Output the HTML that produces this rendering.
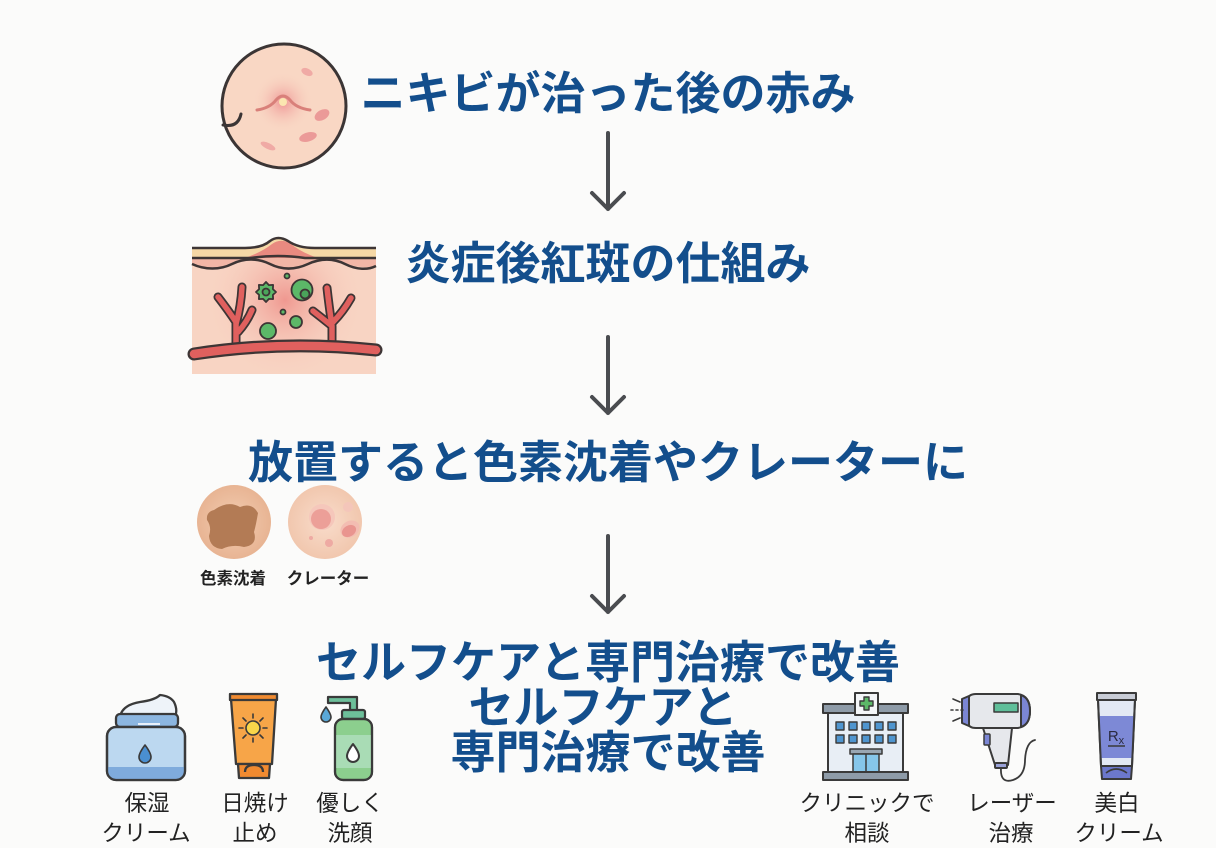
<!DOCTYPE html>
<html><head><meta charset="utf-8"><style>
html,body{margin:0;padding:0;}
body{width:1216px;height:848px;background:#fbfbfa;position:relative;overflow:hidden;font-family:"Liberation Sans","Noto Sans CJK JP",sans-serif;}
.t{position:absolute;left:0;width:1216px;text-align:center;font-size:45px;line-height:45px;font-weight:700;color:#134e8c;white-space:nowrap;}
.l{position:absolute;width:200px;text-align:center;font-size:22.5px;line-height:22px;color:#222;white-space:nowrap;}
.s{position:absolute;width:120px;text-align:center;font-size:16.5px;line-height:18px;font-weight:700;color:#222;white-space:nowrap;}
svg{position:absolute;left:0;top:0;}
</style></head><body>
<svg width="1216" height="848" viewBox="0 0 1216 848">
<defs>
<radialGradient id="g1" cx="283" cy="102" r="30" gradientUnits="userSpaceOnUse"><stop offset="0" stop-color="#ee9494"/><stop offset="1" stop-color="#f9d6c3" stop-opacity="0"/></radialGradient>
<radialGradient id="g2" cx="285" cy="300" r="80" gradientUnits="userSpaceOnUse"><stop offset="0" stop-color="#ef9890"/><stop offset="1" stop-color="#f8d4c3" stop-opacity="0"/></radialGradient>
<radialGradient id="g3" cx="234" cy="522" r="37" gradientUnits="userSpaceOnUse"><stop offset="0" stop-color="#f2cdb2"/><stop offset="1" stop-color="#e8b493"/></radialGradient>
<radialGradient id="g4" cx="325" cy="522" r="37" gradientUnits="userSpaceOnUse"><stop offset="0" stop-color="#f9dccb"/><stop offset="1" stop-color="#f1c7ae"/></radialGradient>
</defs>

<!-- arrows -->
<g stroke="#4a4c50" stroke-width="4" fill="none" stroke-linecap="round" stroke-linejoin="round">
<path d="M608 133 L608 209 M592 193 L608 209 L624 193"/>
<path d="M608 337 L608 413 M592 397 L608 413 L624 397"/>
<path d="M608 536 L608 612 M592 596 L608 612 L624 596"/>
</g>

<!-- top circle -->
<circle cx="284" cy="106" r="62" fill="#f9d7c4"/>
<circle cx="283" cy="102" r="30" fill="url(#g1)"/>
<path d="M257 110 Q270 108 276 100 Q283 92 290 100 Q296 108 310 110" stroke="#d9807a" stroke-width="3" fill="none" stroke-linecap="round"/>
<circle cx="283" cy="102" r="4" fill="#fbe6b0"/>
<ellipse cx="307" cy="72" rx="6" ry="3.5" transform="rotate(25 307 72)" fill="#f0aaa5"/>
<ellipse cx="322" cy="115" rx="8" ry="5" transform="rotate(-30 322 115)" fill="#eb9a98"/>
<ellipse cx="308" cy="137" rx="9" ry="4.5" transform="rotate(-15 308 137)" fill="#eb9a98"/>
<ellipse cx="268" cy="146" rx="8" ry="3" transform="rotate(25 268 146)" fill="#f0aaa5"/>
<circle cx="284" cy="106" r="62" fill="none" stroke="#3b3535" stroke-width="3"/>
<path d="M223 125 Q238 128 241 114" stroke="#3b3535" stroke-width="3" fill="none" stroke-linecap="round"/>

<!-- skin cross section -->
<rect x="192" y="250" width="184" height="124" fill="#f8d4c3"/>
<rect x="192" y="250" width="184" height="124" fill="url(#g2)"/>
<path d="M192 248 L245 248 Q262 248 270 241 Q278 235 288 241 Q298 248 315 248 L376 248 L376 258 L192 258 Z" fill="#f5d8a6"/>
<path d="M245 258 Q262 252 272 244 Q280 238 290 243 Q300 252 318 258 Z" fill="#e98a80"/>
<path d="M192 258 L376 258 L376 266 S368 270 345 264 S320 258 308 264 S283 270 270 264 S245 258 232 264 S205 270 192 264 Z" fill="#f2b6a6"/>
<g stroke="#3d3535" stroke-width="2.5" fill="none">
<path d="M192 248 L245 248 Q262 248 270 241 Q278 235 288 241 Q298 248 315 248 L376 248"/>
<path d="M192 258 L250 258 Q278 254 305 258 L376 258"/>
<path d="M192 264 C205 270 220 270 232 264 S258 258 270 264 S295 270 308 264 S333 258 345 264 S368 270 376 266"/>
</g>
<g fill="none" stroke-linecap="round" stroke-linejoin="round">
<g stroke="#3d3535" stroke-width="9">
<path d="M236 348 L236 322 Q228 310 218 297 M236 324 Q241 306 242 287 M238 332 Q247 322 252 310"/>
<path d="M332 346 L332 326 Q322 318 313 311 M332 326 Q329 306 327 288 M333 322 Q343 312 351 298"/>
</g>
<g stroke="#e0605e" stroke-width="5.5">
<path d="M236 348 L236 322 Q228 310 218 297 M236 324 Q241 306 242 287 M238 332 Q247 322 252 310"/>
<path d="M332 346 L332 326 Q322 318 313 311 M332 326 Q329 306 327 288 M333 322 Q343 312 351 298"/>
</g>
<path d="M194 354 Q285 340 376 350" stroke="#3d3535" stroke-width="13"/>
<path d="M194 354 Q285 340 376 350" stroke="#e0605e" stroke-width="8.5"/>
</g>
<g fill="#5cb868" stroke="#3d3535" stroke-width="1.8" stroke-linejoin="round">
<polygon points="276,292 272.9,294.9 273.1,299.1 268.9,298.9 266,302 263.1,298.9 258.9,299.1 259.1,294.9 256,292 259.1,289.1 258.9,284.9 263.1,285.1 266,282 268.9,285.1 273.1,284.9 272.9,289.1"/>
<circle cx="266" cy="292" r="3.5" fill="#4aa45a"/>
<circle cx="302" cy="290" r="10.5"/>
<circle cx="305" cy="294" r="4.5" fill="#4aa45a"/>
<circle cx="287" cy="276" r="2.5"/>
<circle cx="283" cy="312" r="2.5"/>
<circle cx="268" cy="331" r="8"/>
<circle cx="296" cy="322" r="6"/>
</g>

<!-- pigment / crater -->
<circle cx="234" cy="522" r="37" fill="url(#g3)"/>
<path d="M214 510 Q228 500 240 507 Q252 502 258 513 Q256 525 254 532 Q258 545 244 547 Q232 544 222 549 Q210 548 209 536 Q212 527 207 520 Q206 512 214 510 Z" fill="#b37b55"/>
<circle cx="325" cy="522" r="37" fill="url(#g4)"/>
<circle cx="322" cy="517" r="13" fill="#f5c7bb"/>
<circle cx="321" cy="519" r="10" fill="#ec9f98"/>
<circle cx="348" cy="507" r="5" fill="#f4c6ba"/>
<ellipse cx="350" cy="529" rx="10" ry="8" transform="rotate(-30 350 529)" fill="#f3bdb2"/>
<ellipse cx="349" cy="531" rx="7.5" ry="5.5" transform="rotate(-30 349 531)" fill="#e9958f"/>
<circle cx="329" cy="543" r="4" fill="#eeaaa3"/>
<circle cx="311" cy="538" r="2" fill="#eeaaa3"/>

<!-- jar -->
<g stroke="#3a3a3a" stroke-width="2.3" stroke-linejoin="round">
<path d="M120 717 Q122 705 140 702 Q155 700 160 695 Q170 696 174 702 Q178 710 175 717 Z" fill="#eef3f9"/>
<rect x="116" y="714" width="62" height="13" rx="4" fill="#8cb6e0"/>
<rect x="107" y="727" width="78" height="53" rx="9" fill="#bcd8f0"/>
<path d="M108 767 L184 767 L184 772 Q184 779 176 779 L116 779 Q108 779 108 772 Z" fill="#7fabdc" stroke="none"/>
<rect x="107" y="727" width="78" height="53" rx="9" fill="none"/>
<path d="M145 745 Q139 753 139 757 A6 6 0 0 0 151 757 Q151 753 145 745 Z" fill="#4a8fd0" stroke-width="1.6"/>
</g>
<path d="M138 724 L160 724" stroke="#e8f0fa" stroke-width="2"/>

<!-- sunscreen -->
<g stroke="#3a3a3a" stroke-width="2.3" stroke-linejoin="round">
<path d="M231 699 L276 699 L272 764 L236 764 Z" fill="#f7a548"/>
<rect x="230" y="694" width="47" height="6" fill="#f08a30"/>
<path d="M238 764 L270 764 L269 778 L239 778 Z" fill="#f08a30"/>
<path d="M245 772 Q245 765 254 765 Q263 765 263 772" fill="none"/>
<circle cx="253" cy="728" r="7" fill="#f9d64a" stroke-width="1.6"/>
<g stroke-width="1.6" stroke-linecap="round">
<path d="M263 728 L267 728 M239 728 L243 728 M253 718 L253 714 M253 738 L253 742 M260 721 L263 718 M246 735 L243 738 M246 721 L243 718 M260 735 L263 738"/>
</g>
</g>

<!-- pump bottle -->
<g stroke="#3a3a3a" stroke-width="2.2" stroke-linejoin="round">
<path d="M328 703 L328 697 L357 697 L357 711 L350 711 L350 703 Z" fill="#6dbf9a"/>
<rect x="342" y="710" width="23" height="9" rx="2" fill="#6dbf9a"/>
<rect x="335" y="719" width="37" height="61" rx="8" fill="#8ccf8e"/>
<rect x="336" y="735" width="35" height="33" fill="#a9dcb5" stroke="none"/>
<rect x="335" y="719" width="37" height="61" rx="8" fill="none"/>
<path d="M326 707 Q321 714 321 717 A5 5 0 0 0 331 717 Q331 714 326 707 Z" fill="#5aa8d8" stroke-width="1.6"/>
<path d="M353 744 Q347 752 347 756 A6 6 0 0 0 359 756 Q359 752 353 744 Z" fill="#fff" stroke-width="2"/>
</g>

<!-- hospital -->
<g stroke="#3a3a3a" stroke-width="2" stroke-linejoin="round">
<rect x="828" y="711" width="75" height="62" fill="#e8eef5"/>
<rect x="823" y="704" width="85" height="9" fill="#8e9ba8"/>
<rect x="855" y="693" width="23" height="22" fill="#f4f6f8"/>
<path d="M864 697 L869 697 L869 701 L873 701 L873 706 L869 706 L869 710 L864 710 L864 706 L860 706 L860 701 L864 701 Z" fill="#5cb868" stroke-width="1.4"/>
<g fill="#4f95cf" stroke-width="1.4">
<rect x="836" y="722" width="8" height="8"/><rect x="849" y="722" width="8" height="8"/><rect x="862" y="722" width="8" height="8"/><rect x="875" y="722" width="8" height="8"/><rect x="888" y="722" width="8" height="8"/>
<rect x="836" y="735" width="8" height="8"/><rect x="849" y="735" width="8" height="8"/><rect x="862" y="735" width="8" height="8"/><rect x="875" y="735" width="8" height="8"/><rect x="888" y="735" width="8" height="8"/>
</g>
<rect x="850" y="749" width="32" height="5" fill="#9aa7b3" stroke-width="1.5"/>
<rect x="853" y="754" width="26" height="19" fill="#86c6ea" stroke-width="1.5"/>
<path d="M866 754 L866 773" stroke-width="1.5"/>
<rect x="823" y="772" width="85" height="8" fill="#8e9ba8"/>
</g>

<!-- laser -->
<g stroke="#3a3a3a" stroke-width="2" stroke-linejoin="round" stroke-linecap="round">
<path d="M983 728 L1012 728 L1008 765 L995 765 Z" fill="#e6e8ec"/>
<rect x="995" y="763" width="12" height="5" rx="1" fill="#9aa2d8"/>
<rect x="984" y="734" width="6" height="11" rx="1" fill="#7b86d4" stroke-width="1.5"/>
<path d="M968 700 Q968 694 976 694 L1018 694 Q1030 696 1030 711 Q1030 726 1018 728 L976 728 Q968 728 968 722 Z" fill="#e6e8ec"/>
<path d="M1021 695 Q1030 698 1030 711 Q1030 724 1021 727 Z" fill="#7b86d4"/>
<path d="M962 699 L969 696 L969 726 L962 723 Z" fill="#7b86d4"/>
<rect x="994" y="703" width="24" height="9" fill="#5fbf9a" stroke-width="1.5"/>
<path d="M1001 768 Q1000 784 1013 780 Q1025 776 1025 760 Q1026 742 1035 740" fill="none" stroke-width="1.8"/>
<path d="M953 699 L960 702 M951 710 L953 710 M956 710 L958 710 M961 710 L963 710 M953 721 L960 718" fill="none" stroke-width="1.6"/>
</g>

<!-- Rx tube -->
<g stroke="#3a3a3a" stroke-width="2" stroke-linejoin="round">
<path d="M1098 700 L1135 700 L1132 766 L1101 766 Z" fill="#e3e9f4"/>
<path d="M1099 716 L1134 716 L1133 758 L1100 758 Z" fill="#7d89d6" stroke="none"/>
<path d="M1098 700 L1135 700 L1132 766 L1101 766 Z" fill="none"/>
<rect x="1097" y="693" width="39" height="7" fill="#c8ccd6"/>
<path d="M1101 766 L1132 766 L1131 779 L1102 779 Z" fill="#6c78cc"/>
<path d="M1106 773 Q1116 765 1127 773" fill="none" stroke-width="1.6"/>
<path d="M1108 746 L1125 746" stroke-width="1.6"/>
</g>
<text x="1116" y="741" text-anchor="middle" font-family="Liberation Sans, sans-serif" font-size="15" fill="#2a2a40">R<tspan font-size="11" dy="3">x</tspan></text>
</svg>

<div class="t" style="top:71px;">ニキビが治った後の赤み</div>
<div class="t" style="top:241px;">炎症後紅斑の仕組み</div>
<div class="t" style="top:440px;">放置すると色素沈着やクレーターに</div>
<div class="t" style="top:640px;">セルフケアと専門治療で改善</div>
<div class="t" style="top:685px;left:-5px;">セルフケアと</div>
<div class="t" style="top:730px;">専門治療で改善</div>

<div class="s" style="left:173px;top:570px;">色素沈着</div>
<div class="s" style="left:268px;top:570px;">クレーター</div>

<div class="l" style="left:47px;top:793px;">保湿</div>
<div class="l" style="left:46px;top:823px;">クリーム</div>
<div class="l" style="left:155px;top:793px;">日焼け</div>
<div class="l" style="left:155px;top:823px;">止め</div>
<div class="l" style="left:250px;top:793px;">優しく</div>
<div class="l" style="left:250px;top:823px;">洗顔</div>
<div class="l" style="left:767px;top:793px;">クリニックで</div>
<div class="l" style="left:767px;top:823px;">相談</div>
<div class="l" style="left:912px;top:793px;">レーザー</div>
<div class="l" style="left:911px;top:823px;">治療</div>
<div class="l" style="left:1017px;top:793px;">美白</div>
<div class="l" style="left:1019px;top:823px;">クリーム</div>
</body></html>
